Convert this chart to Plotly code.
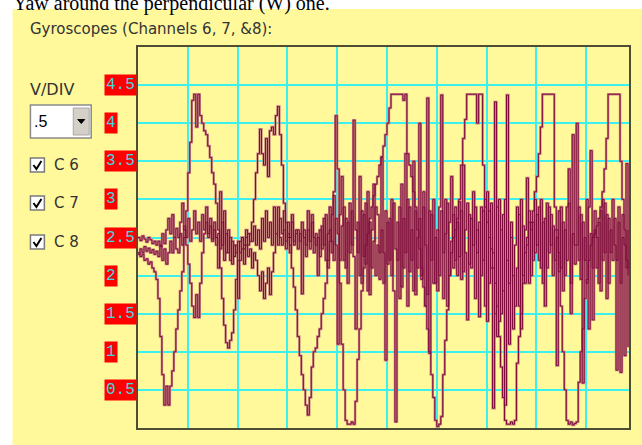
import plotly.graph_objects as go

# ---------------- data ----------------
tick_values = [0.5, 1, 1.5, 2, 2.5, 3, 3.5, 4, 4.5]
tick_labels = ["0.5", "1", "1.5", "2", "2.5", "3", "3.5", "4", "4.5"]
channel_names = ["C 6", "C 7", "C 8"]
vdiv_value = ".5"
page_caption = "Yaw around the perpendicular (W) one."
panel_title = "Gyroscopes (Channels 6, 7, &8):"

# slow, large-swing channel
ch6 = [2.30, 2.25, 2.28, 2.20, 2.22, 2.15, 2.18, 2.10, 2.05, 1.95,
       1.70, 1.20, 0.70, 0.30, 0.55, 0.30, 0.55, 0.75, 1.00, 1.30,
       1.55, 1.80, 2.05, 2.50, 2.85, 3.35, 3.75, 4.30, 4.38, 3.95,
       4.38, 4.10, 4.00, 3.90, 3.85, 3.70, 3.55, 3.35, 3.20, 2.95,
       2.60, 2.10, 1.70, 1.35, 1.12, 1.05, 1.15, 1.25, 1.55, 1.95,
       2.20, 2.45, 2.50, 2.40, 2.50, 2.55, 2.45, 2.70, 3.00, 3.35,
       3.60, 3.92, 3.60, 3.45, 3.80, 3.30, 3.90, 3.95, 3.85, 4.10,
       4.22, 3.85, 3.45, 2.95, 2.70, 2.50, 2.40, 2.10, 1.85, 1.55,
       1.20, 0.95, 0.70, 0.50, 0.30, 0.17, 0.40, 0.80, 1.00, 1.05,
       1.20, 1.30, 1.50, 1.70, 1.90, 2.20, 2.45, 2.80, 3.10, 4.10,
       3.40, 1.90, 1.10, 0.50, 0.10, 0.05, 0.05, 0.08, 0.05, 0.35,
       0.90, 1.30, 1.80, 2.10, 2.40, 2.55, 2.75, 2.90, 3.05, 3.20,
       3.30, 3.45, 3.56, 3.70, 3.85, 4.00, 4.20, 4.38, 4.38, 4.38,
       4.38, 4.38, 4.38, 4.30, 4.38, 3.60, 3.45, 3.30, 3.10, 2.90,
       2.60, 2.35, 2.10, 1.85, 1.60, 1.30, 1.00, 0.70, 0.40, 0.10,
       0.02, 0.05, 0.15, 0.70, 1.15, 1.55, 2.00, 2.30, 2.50, 2.60,
       2.75, 3.00, 3.45, 3.80, 4.05, 4.38, 4.38, 4.38, 4.38, 4.38,
       4.00, 4.38, 4.38, 3.45, 2.90, 2.70, 2.50, 2.35, 2.10, 1.90,
       1.60, 1.20, 0.80, 0.40, 0.10, 0.05, 0.05, 0.08, 0.05, 0.10,
       0.85, 1.20, 1.50, 1.90, 2.30, 2.50, 2.70, 2.60, 2.85, 3.10,
       3.30, 3.60, 3.95, 4.38, 4.38, 4.38, 4.38, 4.38, 4.38, 2.90,
       2.60, 2.30, 1.60, 1.00, 0.50, 0.10, 0.05, 0.08, 0.04, 0.06,
       0.08, 0.60, 1.00, 1.30, 1.70, 1.95, 2.20, 2.40, 2.50, 2.55,
       2.65, 2.75, 2.90, 3.10, 3.40, 3.80, 4.38, 4.38, 4.38, 4.38,
       4.38, 4.38, 3.50, 3.00, 2.60, 2.20, 2.00]

# noisy channel with spikes
ch7 = [2.50, 2.46, 2.52, 2.48, 2.44, 2.50, 2.47, 2.42, 2.45, 2.40,
       2.45, 2.38, 2.55, 2.42, 2.60, 2.75, 2.55, 2.80, 2.50, 2.62,
       2.50, 2.70, 2.95, 2.60, 2.40, 2.15, 1.90, 1.60, 1.45, 1.75,
       1.45, 1.90, 2.30, 2.55, 2.70, 2.50, 2.65, 2.45, 2.60, 2.50,
       2.10, 3.10, 2.40, 2.85, 2.30, 2.60, 2.20, 2.45, 2.25, 2.40,
       1.70, 2.20, 2.35, 2.15, 2.40, 2.25, 2.35, 2.10, 2.30, 2.20,
       2.00, 1.80, 2.05, 1.70, 1.90, 2.10, 1.75, 2.05, 2.30, 2.55,
       2.90, 2.50, 2.40, 2.60, 2.35, 2.55, 2.30, 2.70, 2.45, 2.60,
       2.35, 2.55, 1.76, 2.60, 2.40, 2.85, 2.45, 2.70, 2.30, 2.55,
       2.00, 2.60, 2.35, 2.75, 2.20, 2.55, 2.90, 2.30, 3.05, 2.40,
       1.10, 2.80, 3.30, 2.20, 2.75, 1.90, 2.95, 2.40, 4.04, 2.60,
       2.30, 3.30, 1.90, 2.80, 2.15, 3.10, 1.75, 2.60, 3.20, 2.00,
       2.40, 1.95, 3.55, 2.30, 0.89, 2.70, 2.20, 3.00, 1.80, 0.08,
       2.70, 1.70, 3.20, 2.10, 3.60, 1.60, 2.90, 2.20, 3.50, 1.75,
       2.50, 4.00, 2.00, 2.90, 1.60, 4.33, 0.98, 2.80, 1.90, 2.50,
       1.80, 2.90, 4.37, 2.30, 3.00, 1.60, 2.70, 3.30, 2.10, 2.90,
       2.00, 2.97, 1.95, 3.45, 2.30, 1.42, 2.80, 2.10, 3.10, 1.70,
       2.60, 1.46, 2.90, 2.20, 3.00, 1.40, 2.85, 2.10, 0.26, 4.28,
       1.20, 3.00, 1.50, 2.80, 0.30, 4.37, 1.90, 2.70, 1.30, 2.40,
       2.90, 1.60, 3.00, 2.00, 2.60, 3.28, 1.90, 2.70, 2.20, 3.00,
       2.40, 2.90, 2.10, 2.70, 1.60, 2.95, 2.30, 2.80, 2.00, 2.60,
       0.82, 2.85, 2.10, 2.70, 2.00, 2.90, 3.40, 1.50, 3.85, 2.40,
       4.00, 2.20, 2.80, 0.59, 2.50, 1.90, 2.90, 3.64, 1.42, 2.60,
       2.10, 2.70, 1.80, 3.00, 2.30, 2.80, 1.90, 2.60, 2.20, 2.75,
       0.76, 2.90, 0.73, 2.50, 0.95, 3.47, 1.06]

# second noisy channel
ch8 = [2.28, 2.35, 2.30, 2.38, 2.32, 2.36, 2.30, 2.34, 2.28, 2.32,
       2.25, 2.40, 2.20, 2.35, 2.15, 2.30, 2.45, 2.30, 2.50, 2.35,
       2.30, 2.55, 2.40, 2.65, 2.50, 2.75, 2.45, 2.60, 2.85, 2.55,
       2.70, 2.45, 2.80, 2.60, 2.90, 2.55, 2.75, 2.48, 2.70, 2.40,
       2.55, 2.35, 2.70, 2.20, 2.55, 2.30, 2.50, 2.15, 2.40, 2.30,
       2.45, 2.30, 2.50, 2.35, 2.60, 2.40, 2.55, 2.45, 2.65, 2.40,
       2.60, 2.35, 2.75, 2.45, 2.85, 2.50, 2.70, 2.40, 2.90, 2.55,
       2.40, 2.75, 2.55, 2.85, 2.45, 2.70, 2.50, 2.80, 2.40, 2.55,
       2.60, 2.45, 2.70, 2.50, 2.25, 2.60, 2.35, 2.80, 2.50, 2.40,
       2.50, 2.25, 2.65, 2.40, 2.80, 2.10, 2.60, 2.45, 2.20, 2.75,
       2.55, 2.20, 2.65, 2.90, 2.10, 2.70, 2.30, 2.85, 2.25, 1.30,
       2.70, 2.00, 2.85, 2.25, 2.95, 1.80, 2.70, 2.10, 2.45, 2.90,
       2.80, 2.30, 2.60, 1.90, 2.85, 2.15, 2.75, 2.00, 2.95, 2.35,
       2.20, 2.90, 1.85, 2.75, 2.30, 3.00, 2.05, 2.60, 1.80, 2.85,
       2.10, 2.75, 1.95, 3.10, 2.40, 1.75, 2.85, 2.20, 3.00, 1.90,
       2.60, 2.00, 2.85, 1.70, 2.55, 2.95, 2.00, 2.45, 2.80, 2.20,
       2.70, 2.25, 2.85, 2.05, 2.60, 2.95, 2.15, 2.75, 2.40, 2.90,
       2.30, 2.70, 2.00, 2.85, 1.60, 3.10, 1.90, 2.95, 2.30, 1.50,
       2.90, 1.40, 2.60, 1.80, 3.00, 2.20, 1.10, 2.50, 2.00, 1.60,
       2.10, 2.80, 1.30, 2.65, 1.90, 2.40, 2.85, 2.00, 2.70, 2.30,
       2.80, 2.20, 3.00, 1.90, 2.75, 2.10, 2.90, 2.40, 2.65, 2.20,
       2.50, 2.05, 2.90, 1.80, 2.60, 2.20, 2.95, 1.90, 2.55, 2.15,
       2.40, 2.90, 1.95, 2.70, 2.20, 3.00, 1.30, 2.55, 2.10, 2.85,
       2.50, 1.90, 2.85, 2.20, 2.95, 1.70, 2.75, 2.30, 3.00, 2.40,
       2.20, 2.70, 1.90, 2.80, 2.40, 2.10, 2.60]

channels = [ch6, ch7, ch8]

# ---------------- layout geometry ----------------
W, H = 642, 445
ML, MR, MT, MB = 138, 11, 47, 17
PW, PH = W - ML - MR, H - MT - MB


def PX(p):
    return (p - ML) / PW


def PY(p):
    return (H - MB - p) / PH


YELLOW = "#FFF99B"
GRID = "#3CF0F0"
HALO = "#C8857F"
CORE = "#7E0A3C"
TEXT = "#333333"
UIFONT = "DejaVu Sans"

fig = go.Figure()
n = len(ch6)
xs = list(range(n))

for ch in channels:
    fig.add_trace(go.Scatter(x=xs, y=ch, mode="lines", line_shape="hv",
                             line=dict(color=HALO, width=2.4),
                             hoverinfo="skip", showlegend=False))
for ch, name in zip(channels, channel_names):
    fig.add_trace(go.Scatter(x=xs, y=ch, mode="lines", line_shape="hv",
                             line=dict(color=CORE, width=1.0),
                             name=name, hoverinfo="skip", showlegend=False))

shapes = []
# yellow panel
shapes.append(dict(type="rect", xref="paper", yref="paper", layer="below",
                   x0=PX(12), x1=PX(W + 5), y0=PY(H + 5), y1=PY(9),
                   fillcolor=YELLOW, line=dict(width=0)))

# dropdown box
shapes.append(dict(type="rect", xref="paper", yref="paper",
                   x0=PX(30), x1=PX(91), y0=PY(138), y1=PY(105),
                   fillcolor="white", line=dict(color="#8a8a8a", width=1.5)))
shapes.append(dict(type="rect", xref="paper", yref="paper",
                   x0=PX(73), x1=PX(89), y0=PY(135), y1=PY(108),
                   fillcolor="#D4D0C8", line=dict(color="#a8a8a8", width=1)))
shapes.append(dict(type="path", xref="paper", yref="paper",
                   path="M {a},{b} L {c},{b} L {d},{e} Z".format(
                       a=PX(77.5), c=PX(84.5), b=PY(119.5), d=PX(81), e=PY(123.5)),
                   fillcolor="black", line=dict(color="black", width=1)))

# check boxes
check_y = [165, 203, 242]
for cy in check_y:
    shapes.append(dict(type="rect", xref="paper", yref="paper",
                       x0=PX(30), x1=PX(44), y0=PY(cy + 7), y1=PY(cy - 7),
                       fillcolor="white", line=dict(color="#7a7a7a", width=1.5)))
    shapes.append(dict(type="path", xref="paper", yref="paper",
                       path="M {x1},{y1} L {x2},{y2} L {x3},{y3}".format(
                           x1=PX(33), y1=PY(cy), x2=PX(36), y2=PY(cy + 4),
                           x3=PX(41), y3=PY(cy - 4)),
                       line=dict(color="black", width=2)))

annotations = []
# page caption (cut by the panel)
annotations.append(dict(text=page_caption, xref="paper", yref="paper",
                        x=PX(10), y=PY(3.5), xanchor="left", yanchor="middle",
                        showarrow=False,
                        font=dict(family="Liberation Serif", size=20, color="black")))
annotations.append(dict(text=panel_title, xref="paper", yref="paper",
                        x=PX(28), y=PY(29), xanchor="left", yanchor="middle",
                        showarrow=False, font=dict(family=UIFONT, size=15, color=TEXT)))
annotations.append(dict(text="V/DIV", xref="paper", yref="paper",
                        x=PX(28), y=PY(89), xanchor="left", yanchor="middle",
                        showarrow=False, font=dict(family=UIFONT, size=16, color=TEXT)))
annotations.append(dict(text=vdiv_value, xref="paper", yref="paper",
                        x=PX(32), y=PY(121), xanchor="left", yanchor="middle",
                        showarrow=False, font=dict(family="Liberation Sans", size=16, color="black")))
for cy, name in zip(check_y, channel_names):
    annotations.append(dict(text=name, xref="paper", yref="paper",
                            x=PX(52), y=PY(cy), xanchor="left", yanchor="middle",
                            showarrow=False, font=dict(family=UIFONT, size=15, color=TEXT)))

# red value labels
for v, t in zip(tick_values, tick_labels):
    annotations.append(dict(text=t, xref="paper", yref="y", x=PX(104), y=v,
                            xanchor="left", yanchor="middle", showarrow=False,
                            bgcolor="#FF0000", borderpad=1,
                            font=dict(family="Liberation Mono", size=16, color="#3FD8E0")))

fig.update_layout(
    width=W, height=H, autosize=False,
    margin=dict(l=ML, r=MR, t=MT, b=MB, pad=0),
    paper_bgcolor="white", plot_bgcolor=YELLOW,
    showlegend=False,
    shapes=shapes, annotations=annotations,
    xaxis=dict(range=[0, n - 0.5], dtick=25, tick0=0, showticklabels=False,
               ticks="", showgrid=True, gridcolor=GRID, gridwidth=2,
               zeroline=False, showline=True, linecolor="#4d4d33", linewidth=2,
               mirror=True, fixedrange=True),
    yaxis=dict(range=[0, 5], dtick=0.5, tick0=0, showticklabels=False,
               ticks="", showgrid=True, gridcolor=GRID, gridwidth=2,
               zeroline=False, showline=True, linecolor="#4d4d33", linewidth=2,
               mirror=True, fixedrange=True),
)

fig.write_html("out.html",
               config={"displayModeBar": False, "responsive": False},
               post_script="document.body.style.margin='0';"
                           "document.body.style.overflow='hidden';")
